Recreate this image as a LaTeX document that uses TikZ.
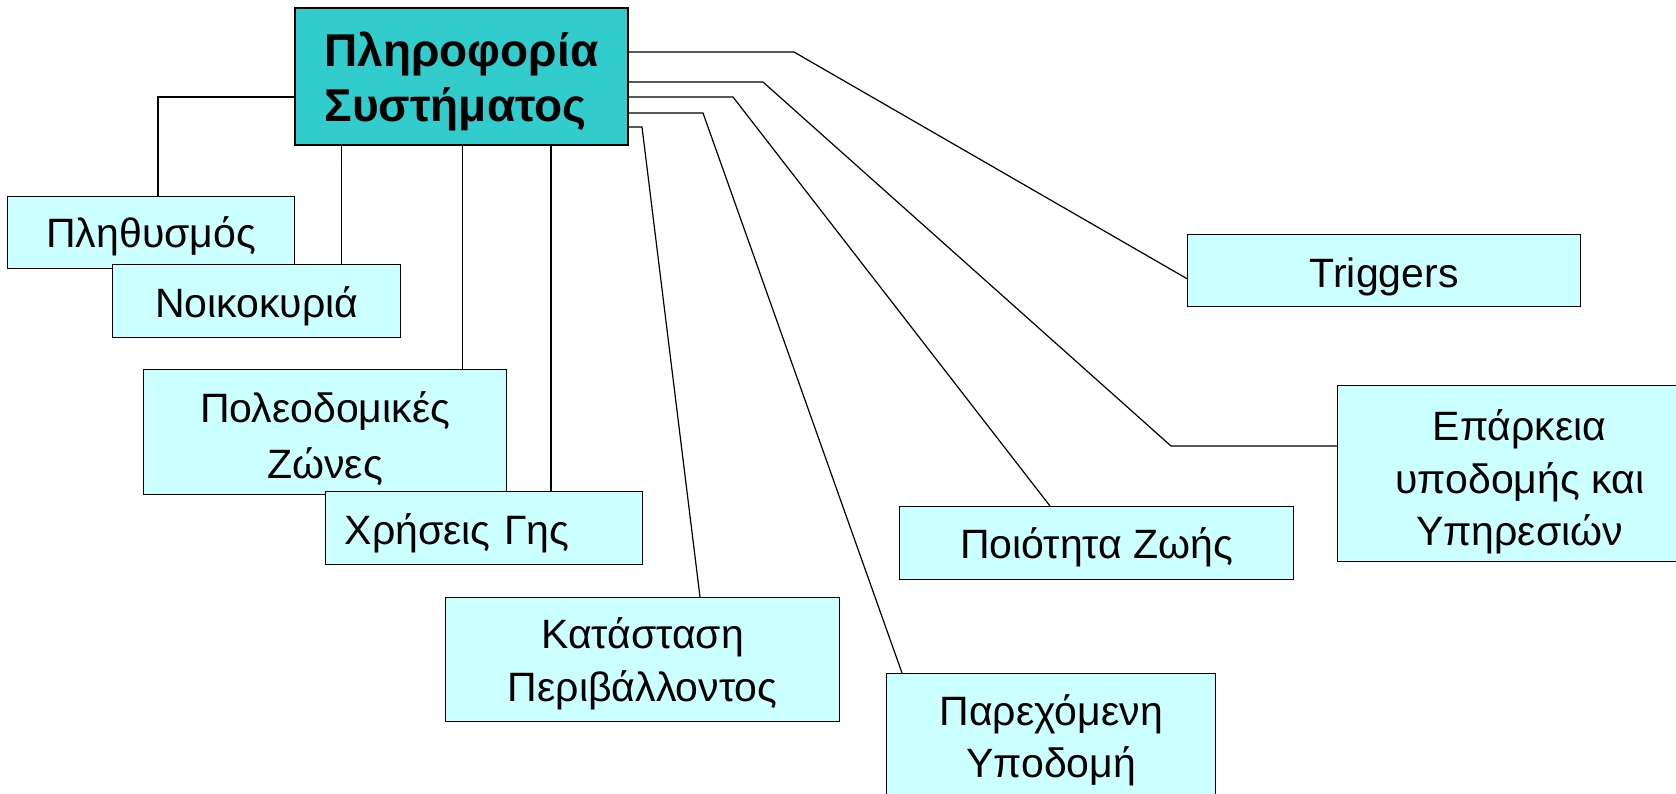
\documentclass[tikz,border=0pt]{standalone}
\usepackage{fontspec}
\setmainfont{Liberation Sans}
\usetikzlibrary{calc}
\pgfdeclarelayer{bg}
\pgfdeclarelayer{canvas}
\pgfsetlayers{canvas,bg,main}
\definecolor{mainfill}{HTML}{33CCCC}
\definecolor{leaffill}{HTML}{CCFFFF}
\newcommand{\myTop}[1]{\rule{0pt}{#1pt}}
\newcommand{\myBot}{\rule[-10pt]{0pt}{10pt}}
\begin{document}
\begin{tikzpicture}[x=1pt,y=-1pt,
  leafbox/.style={draw=black, line width=1.4pt, fill=leaffill, anchor=north west,
    inner sep=0pt, align=center, font=\fontsize{41}{52}\selectfont},
  rootbox/.style={draw=black, line width=2pt, fill=mainfill, anchor=north west,
    inner sep=0pt, align=left, font=\bfseries\fontsize{46}{55}\selectfont},
  link/.style={draw=black, line width=1.2pt}]
\clip (0,0) rectangle (1676,793);
\begin{pgfonlayer}{canvas}
  \fill[white] (0,0) rectangle (1676,793);
\end{pgfonlayer}
\node[rootbox, minimum width=333pt, minimum height=137pt] (main) at (294,7) {\myTop{44}Πληροφορία\\Συστήματος\myBot};
\node[leafbox, minimum width=287pt, minimum height=72pt] (pop) at (7,196) {\myTop{40}Πληθυσμός\myBot};
\node[leafbox, minimum width=288pt, minimum height=73pt] (hh) at (112,264) {\myTop{42}Νοικοκυριά\myBot};
\node[leafbox, minimum width=363pt, minimum height=125pt, font=\fontsize{41}{56}\selectfont] (zones) at (143,369) {\myTop{47}Πολεοδομικές\\Ζώνες\myBot};
\node[leafbox, minimum width=317pt, minimum height=73pt, align=left, text width=279pt, inner xsep=19pt] (landuse) at (325,491) {\myTop{42}Χρήσεις Γης\myBot};
\node[leafbox, minimum width=394pt, minimum height=124pt, font=\fontsize{41}{53}\selectfont] (env) at (445,597) {\myTop{41}Κατάσταση\\Περιβάλλοντος\myBot};
\node[leafbox, minimum width=329pt, minimum height=126pt] (infra) at (886,673) {\myTop{40}Παρεχόμενη\\Υποδομή\myBot};
\node[leafbox, minimum width=394pt, minimum height=73pt] (qol) at (899,506) {\myTop{41}Ποιότητα Ζωής\myBot};
\node[leafbox, minimum width=393pt, minimum height=72pt] (trig) at (1187,234) {\myTop{44}Triggers\myBot};
\node[leafbox, minimum width=364pt, minimum height=176pt, font=\fontsize{41}{52.5}\selectfont] (adeq) at (1337,385) {\myTop{49}Επάρκεια\\υποδομής και\\Υπηρεσιών\myBot};
\begin{pgfonlayer}{bg}
  % left branch
  \coordinate (lP) at ($(main.north west)+(0,90)$);
  \coordinate (cP) at ($(pop.north west)+(151,0)$);
  \draw[link] (lP) -- (lP -| cP) -- (cP);
  % bottom branches
  \coordinate (cH) at ($(hh.north east)+(-60,0)$);
  \draw[link] (cH |- main.south) -- (cH);
  \coordinate (cZ) at ($(zones.north east)+(-45,0)$);
  \draw[link] (cZ |- main.south) -- (cZ);
  \coordinate (cL) at ($(landuse.north west)+(226,0)$);
  \draw[link] (cL |- main.south) -- (cL);
  % right branches
  \coordinate (rT) at ($(main.north east)+(0,45)$);
  \coordinate (bT) at (794,52);
  \draw[link] (rT) -- (bT) -- ($(trig.west)+(0,8)$);
  \coordinate (rE) at ($(main.north east)+(0,75)$);
  \coordinate (bE1) at (763,82);
  \coordinate (bE2) at (1171,446);
  \draw[link] (rE) -- (bE1) -- (bE2) -- (adeq.west |- bE2);
  \coordinate (rQ) at ($(main.north east)+(0,90)$);
  \coordinate (bQ) at (733,97);
  \draw[link] (rQ) -- (bQ) -- ($(qol.north west)+(151,0)$);
  \coordinate (rI) at ($(main.north east)+(0,106)$);
  \coordinate (bI) at (703,113);
  \draw[link] (rI) -- (bI) -- ($(infra.north west)+(16,0)$);
  \coordinate (rK) at ($(main.north east)+(0,120)$);
  \coordinate (bK) at (642,127);
  \draw[link] (rK) -- (bK) -- ($(env.north west)+(255,0)$);
\end{pgfonlayer}
\end{tikzpicture}
\end{document}
